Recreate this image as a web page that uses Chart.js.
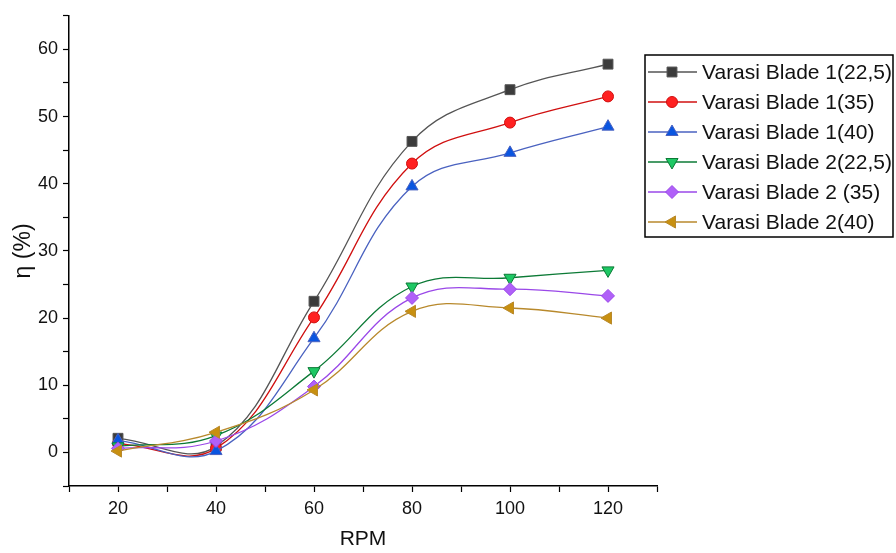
<!DOCTYPE html>
<html>
<head>
<meta charset="utf-8">
<script src="https://cdn.jsdelivr.net/npm/chart.js@4/dist/chart.umd.min.js"></script>
<style>
  html, body { margin: 0; padding: 0; background: #fff; }
  #wrap { width: 896px; height: 553px; position: relative; }
</style>
</head>
<body>
<div id="wrap"><canvas id="effChart"></canvas></div>
<script>
// Data
const rpm = [20, 40, 60, 80, 100, 120];
const blade1_225 = [2.1, 0.9, 22.5, 46.3, 54.0, 57.8];
const blade1_35  = [1.3, 0.6, 20.1, 43.0, 49.1, 53.0];
const blade1_40  = [1.8, 0.2, 17.0, 39.6, 44.6, 48.5];
const blade2_225 = [0.9, 2.5, 12.1, 24.7, 26.0, 27.1];
const blade2_35  = [0.6, 1.7, 9.8, 23.0, 24.3, 23.3];
const blade2_40  = [0.2, 3.0, 9.3, 21.0, 21.5, 20.0];

const seriesNames = ['Varasi Blade 1(22,5)', 'Varasi Blade 1(35)', 'Varasi Blade 1(40)',
                     'Varasi Blade 2(22,5)', 'Varasi Blade 2 (35)', 'Varasi Blade 2(40)'];
const seriesData = [blade1_225, blade1_35, blade1_40, blade2_225, blade2_35, blade2_40];
const lineColors = ['#555555', '#d01010', '#4a62c0', '#0c7a36', '#9a48e8', '#b8892c'];
const fillColors = ['#3c3c3c', '#ff2020', '#0a55e0', '#1ec864', '#b060f8', '#c89010'];
const markers = [
    { style: 'rect', rot: 0, r: 7 },
    { style: 'circle', rot: 0, r: 5.5 },
    { style: 'triangle', rot: 0, r: 7 },
    { style: 'triangle', rot: 180, r: 7 },
    { style: 'rectRot', rot: 0, r: 6.5 },
    { style: 'triangle', rot: -90, r: 7 }
];

const FONT = "'Liberation Sans', Arial, sans-serif";

// simple marker painter for the legend (same geometry as Chart.js point styles)
function drawMarker(ctx, m, x, y, fill, stroke) {
    const r = m.r;
    ctx.save();
    ctx.translate(x, y);
    ctx.rotate(m.rot * Math.PI / 180);
    ctx.beginPath();
    if (m.style === 'rect') {
        const s = r * Math.SQRT1_2;
        ctx.rect(-s, -s, 2 * s, 2 * s);
    } else if (m.style === 'circle') {
        ctx.arc(0, 0, r, 0, Math.PI * 2);
    } else if (m.style === 'triangle') {
        ctx.moveTo(0, -r);
        ctx.lineTo(r * Math.sqrt(3) / 2, r / 2);
        ctx.lineTo(-r * Math.sqrt(3) / 2, r / 2);
        ctx.closePath();
    } else if (m.style === 'rectRot') {
        ctx.moveTo(0, -r);
        ctx.lineTo(r, 0);
        ctx.lineTo(0, r);
        ctx.lineTo(-r, 0);
        ctx.closePath();
    }
    ctx.fillStyle = fill;
    ctx.fill();
    ctx.lineWidth = 1;
    ctx.strokeStyle = stroke;
    ctx.stroke();
    ctx.restore();
}

// boxed legend with line + marker samples
const boxLegend = {
    id: 'boxLegend',
    afterDraw(chart) {
        const ctx = chart.ctx;
        const left = 645, top = 55, w = 248, h = 182;
        ctx.save();
        ctx.fillStyle = '#fff';
        ctx.fillRect(left, top, w, h);
        ctx.strokeStyle = '#000';
        ctx.lineWidth = 1.5;
        ctx.strokeRect(left, top, w, h);
        ctx.font = '21px ' + FONT;
        ctx.textBaseline = 'middle';
        seriesNames.forEach((name, i) => {
            const y = top + 17 + i * 30;
            ctx.strokeStyle = lineColors[i];
            ctx.lineWidth = 1.3;
            ctx.beginPath();
            ctx.moveTo(left + 3, y);
            ctx.lineTo(left + 52, y);
            ctx.stroke();
            drawMarker(ctx, markers[i], left + 27, y, fillColors[i], lineColors[i]);
            ctx.fillStyle = '#111';
            ctx.fillText(name, left + 57, y + 1);
        });
        ctx.restore();
    }
};

const datasets = seriesData.map((d, i) => ({
    label: seriesNames[i],
    data: rpm.map((x, j) => ({ x: x, y: d[j] })),
    borderColor: lineColors[i],
    borderWidth: 1.3,
    backgroundColor: fillColors[i],
    pointBackgroundColor: fillColors[i],
    pointBorderColor: lineColors[i],
    pointBorderWidth: 1,
    pointStyle: markers[i].style,
    rotation: markers[i].rot,
    pointRadius: markers[i].r,
    fill: false,
    tension: 0.4,
    order: seriesData.length - i
}));

new Chart(document.getElementById('effChart'), {
    type: 'line',
    data: { datasets: datasets },
    options: {
        responsive: true,
        maintainAspectRatio: false,
        animation: false,
        layout: { padding: { top: 13, right: 239, left: 0, bottom: 0 } },
        plugins: {
            legend: { display: false },
            tooltip: { enabled: false }
        },
        scales: {
            x: {
                type: 'linear',
                min: 10,
                max: 130,
                grid: { drawOnChartArea: false, drawTicks: true, tickLength: 6, color: '#000', tickWidth: 1.2 },
                border: { display: true, color: '#000', width: 1.5 },
                ticks: {
                    stepSize: 10,
                    autoSkip: false,
                    maxRotation: 0,
                    padding: 6,
                    color: '#111',
                    font: { family: FONT, size: 18 },
                    callback: v => (v % 20 === 0 ? v : '')
                },
                title: { display: true, text: 'RPM', color: '#111', font: { family: FONT, size: 21 }, padding: { top: 0, bottom: 1 } },
                afterFit: scale => { scale.height = 67; }
            },
            y: {
                min: -5,
                max: 65,
                grid: { drawOnChartArea: false, drawTicks: true, tickLength: 6, color: '#000', tickWidth: 1.2 },
                border: { display: true, color: '#000', width: 1.5 },
                ticks: {
                    stepSize: 5,
                    autoSkip: false,
                    padding: 5,
                    color: '#111',
                    font: { family: FONT, size: 18 },
                    callback: v => (v % 10 === 0 ? v : '')
                },
                title: { display: true, text: 'η (%)', color: '#111', font: { family: FONT, size: 23 }, padding: { top: 10, bottom: 0 } },
                afterFit: scale => { scale.width = 69; }
            }
        }
    },
    plugins: [boxLegend]
});
</script>
</body>
</html>
